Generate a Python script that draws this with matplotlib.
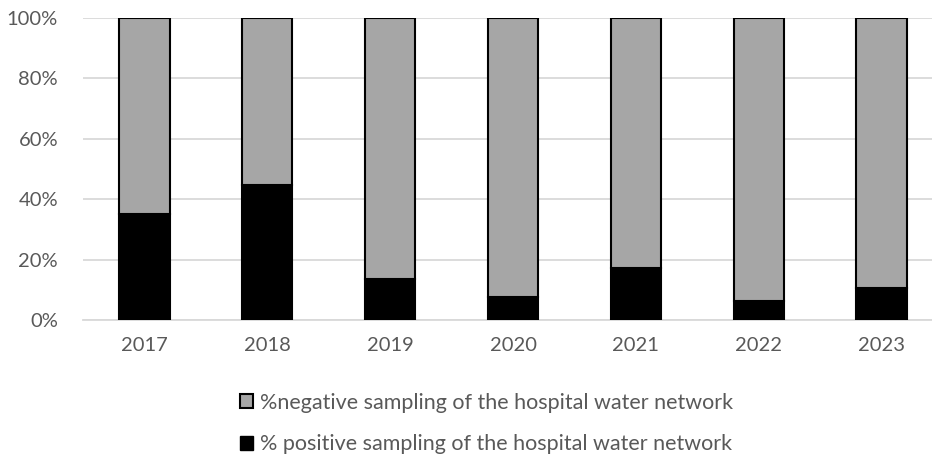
import matplotlib.pyplot as plt
from matplotlib.patches import Patch
from matplotlib.ticker import PercentFormatter

years = ['2017', '2018', '2019', '2020', '2021', '2022', '2023']
positive = [35.1, 44.7, 13.6, 7.6, 17.2, 6.3, 10.6]
negative = [100 - p for p in positive]

neg_label = '%negative sampling of the hospital water network'
pos_label = '% positive sampling of the hospital water network'

plt.rcParams['font.family'] = ['Lato', 'DejaVu Sans']
text_col = '#595959'

fig = plt.figure(figsize=(9.32, 4.57), dpi=100)
ax = fig.add_axes([83 / 932, 1 - 320 / 457, 1 - 83 / 932, 302 / 457])

x = range(len(years))
ax.bar(x, positive, width=0.41, color='black', edgecolor='black', linewidth=1.5, zorder=3)
ax.bar(x, negative, bottom=positive, width=0.41, color='#a6a6a6', edgecolor='black',
       linewidth=1.5, zorder=3)

ax.set_ylim(0, 100)
ax.set_xlim(-0.5, 6.41)
ax.set_yticks(range(0, 101, 20))
ax.yaxis.set_major_formatter(PercentFormatter(decimals=0))
ax.set_xticks(list(x))
ax.set_xticklabels(years)
ax.grid(axis='y', color='#d9d9d9', linewidth=1.3, zorder=0)
for s in ['top', 'right', 'left']:
    ax.spines[s].set_visible(False)
ax.spines['bottom'].set_color('#d9d9d9')
ax.spines['bottom'].set_linewidth(1.3)
ax.tick_params(length=0, labelsize=14.5, colors=text_col)
ax.tick_params(axis='x', pad=12)
ax.tick_params(axis='y', pad=18)

handles = [Patch(facecolor='#a6a6a6', edgecolor='black', linewidth=1.5),
           Patch(facecolor='black', edgecolor='black')]
leg = fig.legend(handles, [neg_label, pos_label], loc='center', bbox_to_anchor=(0.522, 0.073),
                 frameon=False, fontsize=15.5, handlelength=0.6, handleheight=0.6,
                 handletextpad=0.35, labelspacing=1.0, labelcolor=text_col)

fig.savefig('out.png', dpi=100)
